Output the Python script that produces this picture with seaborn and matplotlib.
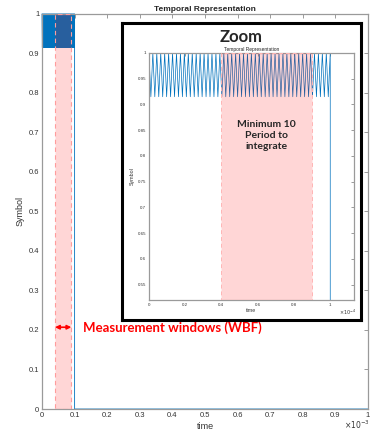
import numpy as np
import pandas as pd
import matplotlib
matplotlib.use("Agg")
import matplotlib.pyplot as plt
from matplotlib.ticker import FuncFormatter, MultipleLocator
import seaborn as sns

# Symbol signal: fast oscillation between peak and trough, then switched off
burst_levels = [1.0, 0.915] * 46 + [1.0]
burst_duration = 1.0e-4      # s
record_end = 1.0e-3          # s
off_level = 0.0

# Highlighted windows (s)
wbf_window = (0.04e-3, 0.09e-3)
zoom_window = (0.4e-4, 0.9e-4)

LINE = "#0072BD"
BAND = (1.0, 0.0, 0.0, 0.16)   # translucent red: pink on white, darker over the signal
BAND_EDGE = "#ff9c9c"
TICK_FONT = "Liberation Sans"
NOTE_FONT = "Lato"

sns.set_style("white")
plt.rcParams["font.family"] = [TICK_FONT, "DejaVu Sans"]

t_burst = np.linspace(0, burst_duration, len(burst_levels))
df = pd.DataFrame({
    "time": np.concatenate([t_burst, [burst_duration, record_end]]),
    "Symbol": np.concatenate([burst_levels, [off_level, off_level]]),
})

fmt = FuncFormatter(lambda v, _: f"{v:g}")


def style_axes(ax, size, tick_len):
    for s in ax.spines.values():
        s.set_color("#9a9a9a")
        s.set_linewidth(0.9)
    ax.tick_params(direction="in", top=True, right=True, length=tick_len, width=0.6,
                   color="#8a8a8a", labelcolor="#333333", labelsize=size, pad=2)
    ax.xaxis.set_major_formatter(fmt)
    ax.yaxis.set_major_formatter(fmt)


fig = plt.figure(figsize=(3.76, 4.38), dpi=100)

# Main plot (time shown in units of 1e-3 s)
ax = fig.add_axes([0.1117, 0.0662, 0.867, 0.902])
sns.lineplot(x=df["time"] * 1e3, y=df["Symbol"], ax=ax, color=LINE, linewidth=0.6,
             estimator=None, sort=False, clip_on=False)
ax.axvspan(wbf_window[0] * 1e3, wbf_window[1] * 1e3, facecolor=BAND, edgecolor=BAND_EDGE,
           linestyle=(0, (4, 3)), linewidth=0.8, zorder=3)
ax.set_xlim(0, 1)
ax.set_ylim(0, 1)
ax.xaxis.set_major_locator(MultipleLocator(0.1))
ax.yaxis.set_major_locator(MultipleLocator(0.1))
style_axes(ax, 5.5, 3)
ax.set_title("Temporal Representation", fontsize=6, fontweight="bold", pad=2)
ax.set_xlabel("time", fontsize=6.5, color="#333333", labelpad=2)
ax.set_ylabel("Symbol", fontsize=6.5, color="#333333", labelpad=3)
fig.text(0.95, 0.021, r"$\times10^{-3}$", fontsize=5.5, color="#333333", ha="center")

ax.annotate("", xy=(wbf_window[0] * 1e3, 0.207), xytext=(wbf_window[1] * 1e3, 0.207),
            arrowprops=dict(arrowstyle="<|-|>", color="red", lw=1.2, shrinkA=0, shrinkB=0,
                            mutation_scale=6), zorder=4)
ax.text(0.126, 0.207, "Measurement windows (WBF)", color="red", fontsize=9.5,
        fontweight="bold", family=NOTE_FONT, va="center", ha="left")

# Black frame for the zoom
frame = fig.add_axes([0.3245, 0.2694, 0.6356, 0.678])
frame.set_xticks([])
frame.set_yticks([])
frame.set_facecolor("white")
for s in frame.spines.values():
    s.set_color("black")
    s.set_linewidth(2.2)
frame.text(0.5, 0.953, "Zoom", ha="center", va="center", fontsize=12,
           fontweight="bold", family=NOTE_FONT)

# Zoomed view (time shown in units of 1e-4 s)
inset = fig.add_axes([0.396, 0.315, 0.545, 0.564])
sns.lineplot(x=df["time"] * 1e4, y=df["Symbol"], ax=inset, color=LINE, linewidth=0.5,
             estimator=None, sort=False)
inset.axvspan(zoom_window[0] * 1e4, zoom_window[1] * 1e4, facecolor=BAND, edgecolor="#ffb5b5",
              linestyle=(0, (4, 3)), linewidth=0.7, zorder=3)
inset.set_xlim(0, 1.13)
inset.set_ylim(0.52, 1)
inset.xaxis.set_major_locator(MultipleLocator(0.2))
inset.yaxis.set_major_locator(MultipleLocator(0.05))
style_axes(inset, 3.2, 2)
inset.set_title("Temporal Representation", fontsize=3.5, pad=1.5)
inset.set_xlabel("time", fontsize=3.8, color="#333333", labelpad=1)
inset.set_ylabel("Symbol", fontsize=3.8, color="#333333", labelpad=2)
fig.text(0.925, 0.282, r"$\times10^{-4}$", fontsize=3.5, color="#333333", ha="center")
inset.text(sum(zoom_window) / 2 * 1e4, 0.84, "Minimum 10\nPeriod to\nintegrate",
           ha="center", va="center", fontsize=7.5, fontweight="bold", family=NOTE_FONT,
           linespacing=1.3, zorder=4)

fig.savefig("out.png", dpi=100)
